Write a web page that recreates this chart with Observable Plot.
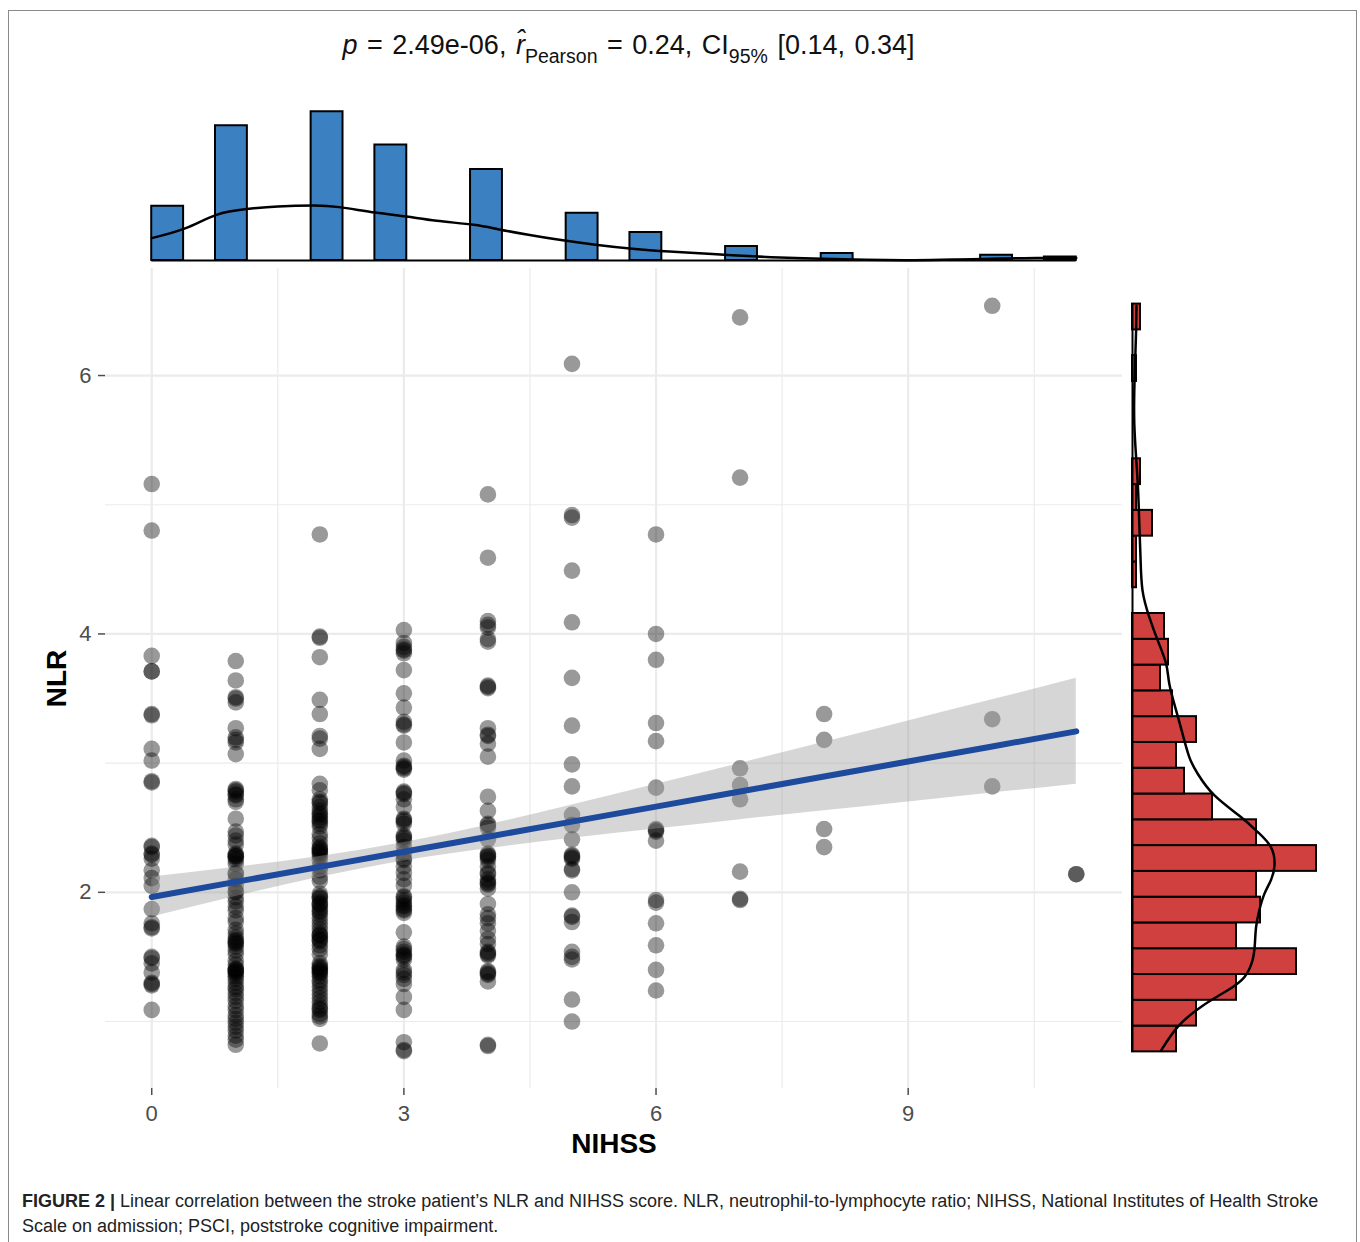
<!DOCTYPE html>
<html>
<head>
<meta charset="utf-8">
<script src="https://cdn.jsdelivr.net/npm/d3@7"></script>
<script src="https://cdn.jsdelivr.net/npm/@observablehq/plot@0.6"></script>
<style>
  html, body { margin: 0; padding: 0; background: #fff; }
  body { width: 1360px; height: 1242px; overflow: hidden; font-family: "Liberation Sans", Arial, Helvetica, sans-serif; }
  #wrap { position: relative; width: 1360px; height: 1242px; }
  #frame { position: absolute; left: 8px; top: 10px; width: 1349px; height: 1300px; border: 1.5px solid #8a8a8a; box-sizing: border-box; }
  #title { position: absolute; left: 0; width: 1257px; top: 30px; text-align: center; font-size: 27px; color: #111; white-space: nowrap; word-spacing: 2px; }
  #title sub { font-size: 19.5px; vertical-align: -9px; line-height: 0; word-spacing: 0; }
  #caption { position: absolute; left: 22px; top: 1189px; width: 1335px; font-size: 18px; line-height: 25px; color: #222; white-space: nowrap; }
  .panel { position: absolute; }
  .panel svg { overflow: visible; max-width: none; }
</style>
</head>
<body>
<div id="wrap">
  <div id="frame"></div>
  <div id="title"><i>p</i> = 2.49e-06, <i>r&#770;</i><sub>Pearson</sub> = 0.24, CI<sub>95%</sub> [0.14, 0.34]</div>
  <div class="panel" id="top" style="left:0px; top:85px;"></div>
  <div class="panel" id="main" style="left:0px; top:258px;"></div>
  <div class="panel" id="right" style="left:1126.5px; top:258px;"></div>
  <div id="caption"><b>FIGURE 2 |</b> Linear correlation between the stroke patient’s NLR and NIHSS score. NLR, neutrophil-to-lymphocyte ratio; NIHSS, National Institutes of Health Stroke<br>Scale on admission; PSCI, poststroke cognitive impairment.</div>
</div>
<script>
// ---- Data ----
const nihssLevels = [0, 1, 2, 3, 4, 5, 6, 7, 8, 10, 11];

const nlrAt0 = [5.16, 4.80, 3.83, 3.71, 3.71, 3.38, 3.37, 3.11, 3.02, 2.85, 2.86, 2.36, 2.35, 2.30, 2.29, 2.26, 2.17, 2.11, 2.05, 1.87, 1.76, 1.73, 1.72, 1.50, 1.49, 1.45, 1.38, 1.30, 1.29, 1.28, 1.09];
const nlrAt1 = [3.79, 3.64, 3.51, 3.50, 3.47, 3.27, 3.20, 3.18, 3.16, 3.07,
  2.80, 2.79, 2.78, 2.76, 2.75, 2.72, 2.70,
  2.57, 2.47, 2.44, 2.40, 2.37,
  2.30, 2.29, 2.28, 2.28, 2.27, 2.25, 2.22,
  2.15, 2.14, 2.10, 2.05, 2.01, 2.00,
  1.96, 1.93, 1.89, 1.86, 1.80, 1.77, 1.71, 1.68,
  1.65, 1.63, 1.62, 1.61, 1.60, 1.58, 1.55, 1.52, 1.47,
  1.44, 1.41, 1.40, 1.40, 1.39, 1.38, 1.37, 1.35, 1.33, 1.30, 1.27, 1.25, 1.22, 1.19, 1.16,
  1.12, 1.09, 1.05, 1.02, 0.99, 0.96, 0.93, 0.89, 0.86, 0.82];
const nlrAt2 = [4.77, 3.98, 3.97, 3.82, 3.49, 3.38, 3.21, 3.19, 3.11,
  2.84, 2.79, 2.72, 2.70, 2.69, 2.66, 2.63, 2.61, 2.60, 2.58, 2.56, 2.55, 2.53, 2.51,
  2.45, 2.42, 2.38, 2.35, 2.34, 2.33, 2.32, 2.31, 2.30, 2.28, 2.25, 2.20, 2.17, 2.12, 2.09,
  1.99, 1.97, 1.96, 1.95, 1.92, 1.91, 1.90, 1.88, 1.86, 1.85, 1.83, 1.80, 1.77, 1.74, 1.71, 1.68, 1.67, 1.66, 1.64, 1.63, 1.62, 1.59, 1.56, 1.52,
  1.45, 1.43, 1.42, 1.41, 1.40, 1.39, 1.38, 1.37, 1.35, 1.32, 1.30, 1.27, 1.24, 1.21, 1.18, 1.15, 1.12, 1.10, 1.09, 1.06, 1.04, 1.02,
  0.83];
const nlrAt3 = [4.03, 3.93, 3.90, 3.88, 3.87, 3.85, 3.72, 3.54, 3.43, 3.32, 3.30, 3.29, 3.16, 3.02, 2.98, 2.97, 2.96, 2.95,
  2.78, 2.77, 2.76, 2.72, 2.66, 2.57, 2.56, 2.55, 2.53, 2.44, 2.43, 2.42, 2.40, 2.35, 2.30, 2.26, 2.25, 2.20, 2.15, 2.10, 2.05,
  1.97, 1.96, 1.94, 1.92, 1.90, 1.89, 1.87, 1.86, 1.84, 1.69, 1.58, 1.56, 1.54, 1.52, 1.51, 1.50, 1.48, 1.40, 1.38, 1.36, 1.33, 1.29, 1.19, 1.09, 0.84, 0.78, 0.77];
const nlrAt4 = [5.08, 4.59, 4.10, 4.07, 4.05, 3.96, 3.94, 3.60, 3.59, 3.58, 3.27, 3.22, 3.21, 3.15, 3.05,
  2.74, 2.63, 2.53, 2.52, 2.50, 2.41, 2.30, 2.29, 2.28, 2.27, 2.25, 2.20, 2.15, 2.14, 2.10, 2.08, 2.07, 2.06, 2.03,
  1.91, 1.83, 1.80, 1.76, 1.70, 1.64, 1.60, 1.54, 1.53, 1.52, 1.51, 1.39, 1.38, 1.37, 1.36, 1.31, 0.82, 0.81];
const nlrAt5 = [6.09, 4.92, 4.90, 4.49, 4.09, 3.66, 3.29, 2.99, 2.82, 2.60, 2.52, 2.41, 2.29, 2.28, 2.27, 2.26, 2.18, 2.17, 2.00, 1.82, 1.81, 1.77, 1.54, 1.50, 1.48, 1.17, 1.00];
const nlrAt6 = [4.77, 4.00, 3.80, 3.31, 3.17, 2.81, 2.49, 2.48, 2.47, 2.40, 1.94, 1.92, 1.76, 1.59, 1.40, 1.24];
const nlrAt7 = [6.45, 5.21, 2.96, 2.83, 2.72, 2.16, 1.95, 1.94];
const nlrAt8 = [3.38, 3.18, 2.49, 2.35];
const nlrAt10 = [6.54, 3.34, 2.82];
const nlrAt11 = [2.14, 2.14];
const nlrColumns = [nlrAt0, nlrAt1, nlrAt2, nlrAt3, nlrAt4, nlrAt5, nlrAt6, nlrAt7, nlrAt8, nlrAt10, nlrAt11];

// linear fit and 95% confidence band
const fitX = [0, 1, 2, 3, 4, 5, 6, 7, 8, 9, 10, 11];
const fitY = [1.964, 2.081, 2.197, 2.314, 2.430, 2.547, 2.663, 2.780, 2.896, 3.013, 3.129, 3.246];
const ciLow = [1.809, 1.968, 2.116, 2.243, 2.338, 2.418, 2.490, 2.562, 2.631, 2.700, 2.768, 2.836];
const ciHigh = [2.119, 2.194, 2.278, 2.385, 2.522, 2.676, 2.836, 2.998, 3.161, 3.326, 3.490, 3.656];

// top marginal (NIHSS): histogram bins (29 bins over 0..11), density curve in count units
const nihssHistLow = 0;
const nihssHistHigh = 11;
const nihssHistBins = 29;
const topDensX = [0, 0.405, 0.77, 1.13, 1.5, 1.93, 2.23, 2.66, 3.03, 3.39, 3.83, 4.12, 4.48, 4.85, 5.28, 5.72, 6.16, 6.67, 7.03, 7.47, 7.98, 8.49, 9.07, 9.58, 10.09, 10.53, 11];
const topDensY = [12.8, 18.5, 26.1, 29.4, 30.9, 31.4, 30.5, 27.4, 25.1, 22.7, 20.4, 17.9, 14.7, 11.8, 9.0, 6.7, 5.1, 3.7, 2.7, 1.7, 1.0, 0.4, 0.2, 0.6, 1.1, 1.4, 1.4];

// right marginal (NLR): 29 bins from 0.765 to 6.55, counts bottom to top
const nlrHistLow = 0.765;
const nlrHistHigh = 6.553;
const nlrHistCounts = [11, 16, 26, 41, 26, 32, 31, 46, 31, 20, 13, 11, 16, 10, 7, 9, 8, 0, 1, 1, 5, 1, 2, 0, 0, 0, 1, 0, 2];
const rightDensV = [0.778, 0.958, 1.113, 1.242, 1.345, 1.474, 1.603, 1.732, 1.861, 1.99, 2.093, 2.209, 2.35, 2.467, 2.583, 2.75, 2.918, 3.047, 3.228, 3.408, 3.615, 3.77, 3.95, 4.13, 4.337, 4.594, 4.853, 5.11, 5.368, 5.626, 5.884, 6.142, 6.348, 6.54];
const rightDensD = [7.2, 11.3, 17.1, 23.8, 28, 30, 30.6, 30.9, 31.7, 33, 34.6, 35.5, 34.6, 31.3, 27.1, 20.5, 16.3, 14.2, 12.5, 10.9, 9.2, 8.4, 6.3, 4.2, 2.5, 2.0, 1.7, 1.4, 0.9, 0.45, 0.45, 0.7, 0.9, 1.0];

const xMajor = [0, 3, 6, 9];
const xMinor = [1.5, 4.5, 7.5, 10.5];
const yMajor = [2, 4, 6];
const yMinor = [1, 3, 5];

// ---- Tables built from the arrays ----
const points = nihssLevels.flatMap((lvl, i) => nlrColumns[i].map(v => ({nihss: lvl, nlr: v})));
const fit = fitX.map((x, i) => ({x, fit: fitY[i], lo: ciLow[i], hi: ciHigh[i]}));
const nihssW = (nihssHistHigh - nihssHistLow) / nihssHistBins;
const topBars = nihssLevels.map((lvl, i) => {
  const k = Math.min(nihssHistBins - 1, Math.floor((lvl - nihssHistLow) / nihssW));
  return {x1: nihssHistLow + k * nihssW, x2: nihssHistLow + (k + 1) * nihssW, n: nlrColumns[i].length};
});
const topDens = topDensX.map((x, i) => ({x, d: topDensY[i]}));
const nlrW = (nlrHistHigh - nlrHistLow) / nlrHistCounts.length;
const rightBars = nlrHistCounts.map((n, i) => ({y1: nlrHistLow + i * nlrW, y2: nlrHistLow + (i + 1) * nlrW, n})).filter(d => d.n > 0);
const rightDens = rightDensV.map((v, i) => ({v, d: rightDensD[i]}));

const font = "Liberation Sans, Arial, Helvetica, sans-serif";
const xDom = [-0.55, 11.55];
const yDom = [0.4815, 6.8285];
const gridColor = "#ebebeb";

const mainPlot = Plot.plot({
  width: 1125, height: 910,
  marginLeft: 105, marginRight: 3, marginTop: 10, marginBottom: 80,
  x: {domain: xDom},
  y: {domain: yDom},
  style: {fontFamily: font, background: "transparent", color: "#4d4d4d", overflow: "visible"},
  marks: [
    Plot.ruleX(xMinor, {stroke: gridColor, strokeWidth: 1.2}),
    Plot.ruleY(yMinor, {stroke: gridColor, strokeWidth: 1.2}),
    Plot.ruleX(xMajor, {stroke: gridColor, strokeWidth: 2.2}),
    Plot.ruleY(yMajor, {stroke: gridColor, strokeWidth: 2.2}),
    Plot.dot(points, {x: "nihss", y: "nlr", r: 8.3, fill: "#000", fillOpacity: 0.4, stroke: null}),
    Plot.areaY(fit, {x: "x", y1: "lo", y2: "hi", fill: "#999999", fillOpacity: 0.4, curve: "natural"}),
    Plot.line(fit, {x: "x", y: "fit", stroke: "#1d4a9c", strokeWidth: 6}),
    Plot.axisX(xMajor, {tickSize: 7, tickPadding: 10, fontSize: 22, label: null, strokeWidth: 1.5, tickFormat: d => String(d)}),
    Plot.axisY(yMajor, {tickSize: 7, tickPadding: 7, fontSize: 22, label: null, strokeWidth: 1.5, tickFormat: d => String(d)}),
    Plot.text(["NIHSS"], {frameAnchor: "bottom", dy: 56, textAnchor: "middle", lineAnchor: "middle", fontSize: 28, fontWeight: "bold", fill: "#000"}),
    Plot.text(["NLR"], {frameAnchor: "left", dx: -48, rotate: -90, textAnchor: "middle", lineAnchor: "middle", fontSize: 28, fontWeight: "bold", fill: "#000"})
  ]
});
document.getElementById("main").appendChild(mainPlot);

const topPlot = Plot.plot({
  width: 1125, height: 180,
  marginLeft: 105, marginRight: 3, marginTop: 0, marginBottom: 5,
  x: {domain: xDom, axis: null},
  y: {domain: [0, 100], axis: null},
  style: {background: "transparent", overflow: "visible"},
  marks: [
    Plot.rect(topBars, {x1: "x1", x2: "x2", y1: 0, y2: "n", fill: "#3b80c1", stroke: "#000", strokeWidth: 2}),
    Plot.ruleY([0], {x1: nihssHistLow, x2: nihssHistHigh, stroke: "#000", strokeWidth: 2}),
    Plot.line(topDens, {x: "x", y: "d", curve: "natural", stroke: "#000", strokeWidth: 2.5})
  ]
});
document.getElementById("top").appendChild(topPlot);

const rightPlot = Plot.plot({
  width: 230, height: 840,
  marginLeft: 5, marginRight: 5, marginTop: 10, marginBottom: 10,
  x: {domain: [0, 55], axis: null},
  y: {domain: yDom, axis: null},
  style: {background: "transparent", overflow: "visible"},
  marks: [
    Plot.rect(rightBars, {y1: "y1", y2: "y2", x1: 0, x2: "n", fill: "#d0403f", stroke: "#000", strokeWidth: 2}),
    Plot.ruleX([0], {y1: nlrHistLow, y2: nlrHistHigh, stroke: "#000", strokeWidth: 2}),
    Plot.line(rightDens, {x: "d", y: "v", curve: "natural", stroke: "#000", strokeWidth: 2.5})
  ]
});
document.getElementById("right").appendChild(rightPlot);
</script>
</body>
</html>
